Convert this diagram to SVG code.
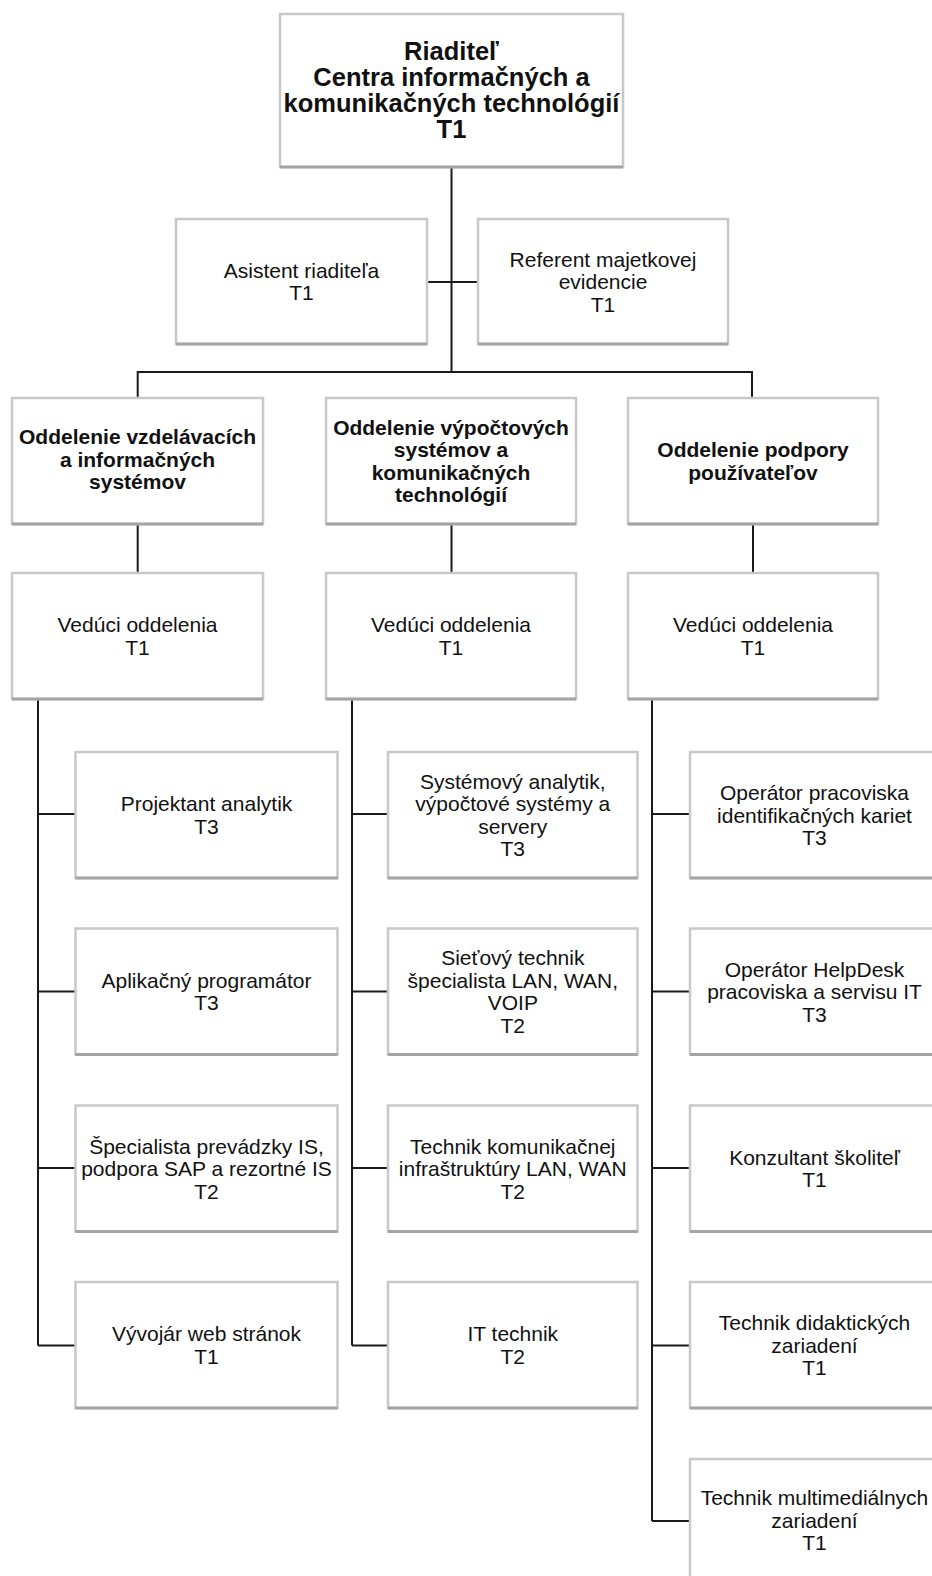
<svg xmlns="http://www.w3.org/2000/svg" width="932" height="1576" viewBox="0 0 932 1576">
<style>
.box{fill:#fff;stroke:#c8c8c8;stroke-width:2.5}
.sh{stroke:#a4a4a4;stroke-width:3;fill:none}
.ln{stroke:#1a1a1a;stroke-width:2;fill:none}
text{font-family:"Liberation Sans",Arial,sans-serif;font-size:21px;fill:#111;text-anchor:middle}
.b{font-weight:bold}
.big{font-weight:bold;font-size:25.5px}
</style>
<rect width="932" height="1576" fill="#fff"/>
<g id="connectors">
<path class="ln" d="M451.5,167V372M427,282H478M137.7,372H752M137.7,371V398M752,371V398"/>
<path class="ln" d="M137.7,524V573M451.5,524V573M753,524V573"/>
<path class="ln" d="M38,699V1345.5M38,814H75.5M38,991.5H75.5M38,1168H75.5M38,1345.5H75.5"/>
<path class="ln" d="M352,699V1345.5M352,814H388M352,991.5H388M352,1168H388M352,1345.5H388"/>
<path class="ln" d="M652,699V1521M652,814H690M652,991.5H690M652,1168H690M652,1345.5H690M652,1521H690"/>
</g>
<g id="riaditel"><rect class="box" x="280" y="14" width="343" height="153"/><path class="sh" d="M280,167H623"/>
<text class="big"><tspan x="451.5" y="59.5">Riaditeľ</tspan><tspan x="451.5" y="85.5">Centra informačných a</tspan><tspan x="451.5" y="111.5">komunikačných technológií</tspan><tspan x="451.5" y="137.5">T1</tspan></text></g>
<g id="asistent"><rect class="box" x="176" y="219" width="251" height="125"/><path class="sh" d="M176,344H427"/>
<text><tspan x="301.5" y="277.8">Asistent riaditeľa</tspan><tspan x="301.5" y="300.3">T1</tspan></text></g>
<g id="referent"><rect class="box" x="478" y="219" width="250" height="125"/><path class="sh" d="M478,344H728"/>
<text><tspan x="603" y="266.5">Referent majetkovej</tspan><tspan x="603" y="289">evidencie</tspan><tspan x="603" y="311.5">T1</tspan></text></g>
<g id="odd1"><rect class="box" x="12" y="398" width="251" height="126"/><path class="sh" d="M12,524H263"/>
<text class="b"><tspan x="137.5" y="444">Oddelenie vzdelávacích</tspan><tspan x="137.5" y="466.5">a informačných</tspan><tspan x="137.5" y="489">systémov</tspan></text></g>
<g id="odd2"><rect class="box" x="326" y="398" width="250" height="126"/><path class="sh" d="M326,524H576"/>
<text class="b"><tspan x="451" y="434.8">Oddelenie výpočtových</tspan><tspan x="451" y="457.3">systémov a</tspan><tspan x="451" y="479.8">komunikačných</tspan><tspan x="451" y="502.3">technológií</tspan></text></g>
<g id="odd3"><rect class="box" x="628" y="398" width="250" height="126"/><path class="sh" d="M628,524H878"/>
<text class="b"><tspan x="753" y="457.3">Oddelenie podpory</tspan><tspan x="753" y="479.8">používateľov</tspan></text></g>
<g id="ved1"><rect class="box" x="12" y="573" width="251" height="126"/><path class="sh" d="M12,699H263"/>
<text><tspan x="137.5" y="632.3">Vedúci oddelenia</tspan><tspan x="137.5" y="654.8">T1</tspan></text></g>
<g id="ved2"><rect class="box" x="326" y="573" width="250" height="126"/><path class="sh" d="M326,699H576"/>
<text><tspan x="451" y="632.3">Vedúci oddelenia</tspan><tspan x="451" y="654.8">T1</tspan></text></g>
<g id="ved3"><rect class="box" x="628" y="573" width="250" height="126"/><path class="sh" d="M628,699H878"/>
<text><tspan x="753" y="632.3">Vedúci oddelenia</tspan><tspan x="753" y="654.8">T1</tspan></text></g>
<g id="l1"><rect class="box" x="75.5" y="752" width="262" height="126"/><path class="sh" d="M75.5,878H337.5"/>
<text><tspan x="206.5" y="811">Projektant analytik</tspan><tspan x="206.5" y="833.5">T3</tspan></text></g>
<g id="l2"><rect class="box" x="75.5" y="928.5" width="262" height="126"/><path class="sh" d="M75.5,1054.5H337.5"/>
<text><tspan x="206.5" y="987.8">Aplikačný programátor</tspan><tspan x="206.5" y="1010.3">T3</tspan></text></g>
<g id="l3"><rect class="box" x="75.5" y="1105.5" width="262" height="126"/><path class="sh" d="M75.5,1231.5H337.5"/>
<text><tspan x="206.5" y="1153.5">Špecialista prevádzky IS,</tspan><tspan x="206.5" y="1176">podpora SAP a rezortné IS</tspan><tspan x="206.5" y="1198.5">T2</tspan></text></g>
<g id="l4"><rect class="box" x="75.5" y="1282" width="262" height="126"/><path class="sh" d="M75.5,1408H337.5"/>
<text><tspan x="206.5" y="1341.3">Vývojár web stránok</tspan><tspan x="206.5" y="1363.8">T1</tspan></text></g>
<g id="m1"><rect class="box" x="388" y="752" width="249.5" height="126"/><path class="sh" d="M388,878H637.5"/>
<text><tspan x="512.8" y="788.5">Systémový analytik,</tspan><tspan x="512.8" y="811">výpočtové systémy a</tspan><tspan x="512.8" y="833.5">servery</tspan><tspan x="512.8" y="856">T3</tspan></text></g>
<g id="m2"><rect class="box" x="388" y="928.5" width="249.5" height="126"/><path class="sh" d="M388,1054.5H637.5"/>
<text><tspan x="512.8" y="965">Sieťový technik</tspan><tspan x="512.8" y="987.5">špecialista LAN, WAN,</tspan><tspan x="512.8" y="1010">VOIP</tspan><tspan x="512.8" y="1032.5">T2</tspan></text></g>
<g id="m3"><rect class="box" x="388" y="1105.5" width="249.5" height="126"/><path class="sh" d="M388,1231.5H637.5"/>
<text><tspan x="512.8" y="1153.5">Technik komunikačnej</tspan><tspan x="512.8" y="1176">infraštruktúry LAN, WAN</tspan><tspan x="512.8" y="1198.5">T2</tspan></text></g>
<g id="m4"><rect class="box" x="388" y="1282" width="249.5" height="126"/><path class="sh" d="M388,1408H637.5"/>
<text><tspan x="512.8" y="1341.3">IT technik</tspan><tspan x="512.8" y="1363.8">T2</tspan></text></g>
<g id="r1"><rect class="box" x="690" y="752" width="249" height="126"/><path class="sh" d="M690,878H939"/>
<text><tspan x="814.5" y="800">Operátor pracoviska</tspan><tspan x="814.5" y="822.5">identifikačných kariet</tspan><tspan x="814.5" y="845">T3</tspan></text></g>
<g id="r2"><rect class="box" x="690" y="928.5" width="249" height="126"/><path class="sh" d="M690,1054.5H939"/>
<text><tspan x="814.5" y="976.5">Operátor HelpDesk</tspan><tspan x="814.5" y="999">pracoviska a servisu IT</tspan><tspan x="814.5" y="1021.5">T3</tspan></text></g>
<g id="r3"><rect class="box" x="690" y="1105.5" width="249" height="126"/><path class="sh" d="M690,1231.5H939"/>
<text><tspan x="814.5" y="1164.8">Konzultant školiteľ</tspan><tspan x="814.5" y="1187.3">T1</tspan></text></g>
<g id="r4"><rect class="box" x="690" y="1282" width="249" height="126"/><path class="sh" d="M690,1408H939"/>
<text><tspan x="814.5" y="1330">Technik didaktických</tspan><tspan x="814.5" y="1352.5">zariadení</tspan><tspan x="814.5" y="1375">T1</tspan></text></g>
<g id="r5"><rect class="box" x="690" y="1459" width="249" height="126"/>
<text><tspan x="814.5" y="1505">Technik multimediálnych</tspan><tspan x="814.5" y="1527.5">zariadení</tspan><tspan x="814.5" y="1550">T1</tspan></text></g>
</svg>
